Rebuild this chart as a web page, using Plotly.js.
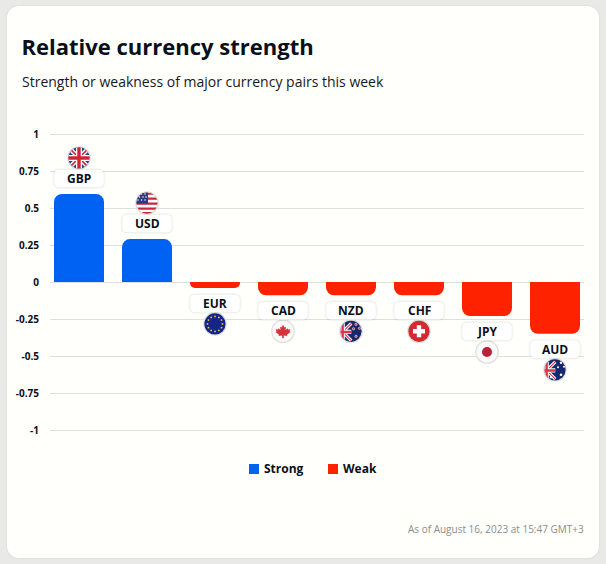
<!DOCTYPE html>
<html><head><meta charset="utf-8">
<script src="https://cdn.plot.ly/plotly-3.0.1.min.js"></script>
<style>
html,body{margin:0;padding:0;width:606px;height:564px;overflow:hidden;background:#e9e9e7;}
#card{position:absolute;left:7px;top:6px;width:592px;height:552px;border-radius:12px;background:#fffffb;box-shadow:0 0 3px rgba(0,0,0,.08);}
#chart{position:absolute;left:0;top:0;width:606px;height:564px;}
</style></head><body>
<div id="card"></div><div id="chart"></div>
<script>
var categories=['GBP','USD','EUR','CAD','NZD','CHF','JPY','AUD'];
var values=[0.595,0.29,-0.04,-0.09,-0.09,-0.09,-0.23,-0.35];
var tickVals=[1,0.75,0.5,0.25,0,-0.25,-0.5,-0.75,-1];
var tickText=['1','0.75','0.5','0.25','0','-0.25','-0.5','-0.75','-1'];
var seriesNames=['Strong','Weak'];

var BLUE='#0062f2', RED='#ff2200', FONT='"Open Sans", sans-serif', INK='#0b0f1a';
var pxY=148, pxX=68; // pixels per y unit and per category
var PAD=2/pxY, L=50, W=534, T=132, H=300;
function px(x){return (x-L)/W;}
function py(y){return 1-(y-T)/H;}

function jack(){return '<rect width="24" height="24" fill="#27408f"/>'+
 '<path d="M0 0L24 24M24 0L0 24" stroke="#fff" stroke-width="4.5"/>'+
 '<path d="M0 0L24 24M24 0L0 24" stroke="#cf2336" stroke-width="1.6"/>'+
 '<path d="M12 0V24M0 12H24" stroke="#fff" stroke-width="6"/>'+
 '<path d="M12 0V24M0 12H24" stroke="#cf2336" stroke-width="3.4"/>';}
function south(stars){return '<rect width="24" height="24" fill="#14296e"/>'+
 '<g transform="translate(-5 4) scale(.72)"><path d="M0 0L24 24M24 0L0 24" stroke="#fff" stroke-width="4.5"/><path d="M0 0L24 24M24 0L0 24" stroke="#e0334a" stroke-width="1.6"/><path d="M12 0V24M0 12H24" stroke="#fff" stroke-width="6"/><path d="M12 0V24M0 12H24" stroke="#e0334a" stroke-width="3.4"/></g>'+
 stars;}
var art={
 GBP:jack(),
 USD:'<rect width="24" height="24" fill="#fff"/><path d="M0 2.5H24M0 7.5H24M0 12.5H24M0 17.5H24M0 22H24" stroke="#c8283c" stroke-width="2.4"/><rect width="13" height="12.5" fill="#2b3a80"/><path d="M3 3h.01M6.5 3h.01M10 3h.01M4.5 6h.01M8 6h.01M11 6h.01M3 9h.01M6.5 9h.01M10 9h.01" stroke="#fff" stroke-width="1.5" stroke-linecap="round"/>',
 EUR:'<rect width="24" height="24" fill="#14248a"/><g fill="#e8c93a"><circle cx="12" cy="4.5" r=".9"/><circle cx="15.8" cy="5.5" r=".9"/><circle cx="18.5" cy="8.2" r=".9"/><circle cx="19.5" cy="12" r=".9"/><circle cx="18.5" cy="15.8" r=".9"/><circle cx="15.8" cy="18.5" r=".9"/><circle cx="12" cy="19.5" r=".9"/><circle cx="8.2" cy="18.5" r=".9"/><circle cx="5.5" cy="15.8" r=".9"/><circle cx="4.5" cy="12" r=".9"/><circle cx="5.5" cy="8.2" r=".9"/><circle cx="8.2" cy="5.5" r=".9"/></g>',
 CAD:'<rect width="24" height="24" fill="#fbfaf8"/><path d="M12 5.5l1.5 2.7 1.5-.8-.5 3.4 2-1.9.5 1.3 2.2-.3-.7 2.3 1 .6-3.5 2.7.4 1.3-3.6-.5V19h-1.6v-2.7l-3.6.5.4-1.3-3.5-2.7 1-.6-.7-2.3 2.2.3.5-1.3 2 1.9-.5-3.4 1.5.8z" fill="#d5343b"/>',
 NZD:south('<g fill="#e0334a" stroke="#fff" stroke-width=".5"><circle cx="17" cy="5" r="1.2"/><circle cx="20.5" cy="9" r="1.2"/><circle cx="14.5" cy="9.5" r="1.2"/><circle cx="17" cy="17" r="1.2"/></g>'),
 CHF:'<rect width="24" height="24" fill="#d32a30"/><path d="M12 6V18M6 12H18" stroke="#fff" stroke-width="4.4"/>',
 JPY:'<rect width="24" height="24" fill="#fbfaf8"/><circle cx="12" cy="12" r="5" fill="#bc1f3a"/>',
 AUD:south('<g fill="#fff"><circle cx="18" cy="5" r="1.2"/><circle cx="21" cy="9" r="1"/><circle cx="15" cy="9.5" r="1"/><circle cx="18" cy="17" r="1.3"/><circle cx="8" cy="19.5" r="1.2"/></g>')
};
function flagUri(code){
 var s='<svg xmlns="http://www.w3.org/2000/svg" width="96" height="96" viewBox="0 0 24 24"><defs><clipPath id="c"><circle cx="12" cy="12" r="10.6"/></clipPath></defs>'+
  '<circle cx="12" cy="12" r="11.8" fill="#dededc"/><g clip-path="url(#c)">'+art[code]+'</g></svg>';
 return 'data:image/svg+xml;base64,'+btoa(s);
}
function side(v){return v>=0?1:-1;}

var strongX=[],strongY=[],weakX=[],weakY=[];
categories.forEach(function(c,i){
 if(values[i]>=0){strongX.push(c);strongY.push(values[i]);}
 else{weakX.push(c);weakY.push(values[i]);}
});

var traces=[
 {type:'bar',name:seriesNames[0],x:strongX,y:strongY,width:0.735,marker:{color:BLUE,cornerradius:8},hoverinfo:'x+y'},
 {type:'bar',name:seriesNames[1],x:weakX,y:weakY,width:0.735,marker:{color:RED,cornerradius:8},hoverinfo:'x+y'}
];

function plate(w,h,r){
 var a=w/2,b=h/2;
 return 'M'+(-a+r)+','+(-b)+' L'+(a-r)+','+(-b)+' Q'+a+','+(-b)+' '+a+','+(-b+r)+' L'+a+','+(b-r)+' Q'+a+','+b+' '+(a-r)+','+b+' L'+(-a+r)+','+b+' Q'+(-a)+','+b+' '+(-a)+','+(b-r)+' L'+(-a)+','+(-b+r)+' Q'+(-a)+','+(-b)+' '+(-a+r)+','+(-b)+' Z';
}
var shapes=[],annotations=[],images=[];
categories.forEach(function(c,i){
 var v=values[i],s=side(v);
 var cy=v+s*15.5/pxY;
 shapes.push({type:'path',layer:'above',xref:'x',yref:'y',xsizemode:'pixel',ysizemode:'pixel',xanchor:i,yanchor:cy,
  path:plate(53,21,7),fillcolor:'rgba(0,0,0,0.03)',line:{width:0}});
 shapes.push({type:'path',layer:'above',xref:'x',yref:'y',xsizemode:'pixel',ysizemode:'pixel',xanchor:i,yanchor:cy,
  path:plate(51,19,6),fillcolor:'rgba(0,0,0,0.045)',line:{width:0}});
 shapes.push({type:'path',layer:'above',xref:'x',yref:'y',xsizemode:'pixel',ysizemode:'pixel',xanchor:i,yanchor:cy,
  path:plate(49.5,17.5,5),fillcolor:'#ffffff',line:{width:0}});
 annotations.push({xref:'x',yref:'y',x:i,y:cy,text:'<b>'+c+'</b>',showarrow:false,xanchor:'center',yanchor:'middle',
  font:{family:FONT,size:12,color:INK}});
 images.push({source:flagUri(c),xref:'x',yref:'y',x:i,y:v+s*36/pxY,sizex:24/pxX,sizey:24/pxY,sizing:'stretch',
  xanchor:'center',yanchor:'middle',layer:'above'});
});
annotations.push(
 {xref:'paper',yref:'paper',x:px(20),y:py(81.5),xanchor:'left',yanchor:'middle',showarrow:false,align:'left',
  text:'Strength or weakness of major currency pairs this week',font:{family:FONT,size:14,color:'#16181f'}},
 {xref:'paper',yref:'paper',x:px(586),y:py(528.5),xanchor:'right',yanchor:'middle',showarrow:false,
  text:'As of August 16, 2023 at 15:47 GMT+3',font:{family:FONT,size:10,color:'#8d8d8d'}}
);
// legend key
[[249,BLUE,262],[328,RED,341.5]].forEach(function(k,i){
 shapes.push({type:'rect',xref:'paper',yref:'paper',x0:px(k[0]),x1:px(k[0]+10),y0:py(474),y1:py(464),fillcolor:k[1],line:{width:0}});
 annotations.push({xref:'paper',yref:'paper',x:px(k[2]),y:py(468.5),xanchor:'left',yanchor:'middle',showarrow:false,
  text:'<b>'+seriesNames[i]+'</b>',font:{family:FONT,size:12,color:INK}});
});

var layout={
 width:606,height:564,
 paper_bgcolor:'rgba(0,0,0,0)',plot_bgcolor:'rgba(0,0,0,0)',
 margin:{l:L,r:606-L-W,t:T,b:564-T-H},
 title:{text:'<b>Relative currency strength</b>',x:21.5/606,xanchor:'left',xref:'container',y:1-47/564,yanchor:'middle',yref:'container',
  font:{family:FONT,size:22,color:'#0b0f1a'}},
 barmode:'overlay',
 xaxis:{type:'category',categoryorder:'array',categoryarray:categories,range:[-0.4265,7.4265],
  showticklabels:false,showgrid:false,zeroline:false,showline:false,ticks:''},
 yaxis:{range:[-1-PAD,1+PAD],tickmode:'array',tickvals:tickVals,ticktext:tickText,showgrid:true,gridcolor:'#dfdfdc',gridwidth:1,
  zeroline:true,zerolinecolor:'#dfdfdc',zerolinewidth:1,showline:false,ticks:'',ticklabelstandoff:10,
  tickfont:{family:FONT,size:10,color:INK,weight:700}},
 showlegend:false,
 shapes:shapes,annotations:annotations,images:images
};
Plotly.newPlot('chart',traces,layout,{displayModeBar:false,responsive:false});
</script></body></html>
